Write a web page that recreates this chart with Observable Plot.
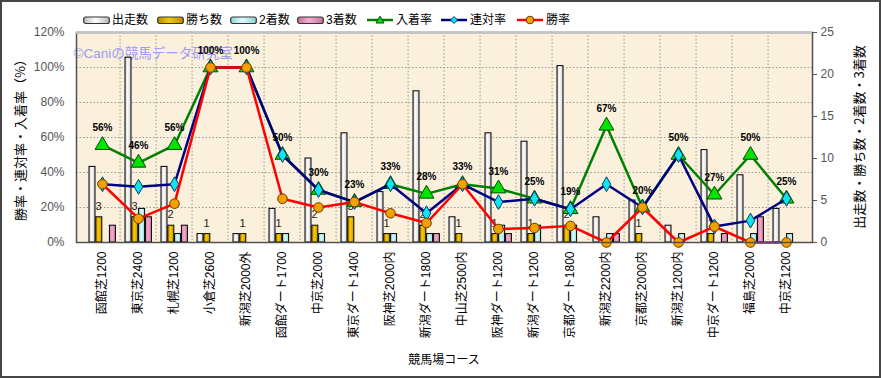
<!DOCTYPE html>
<html><head><meta charset="utf-8">
<script src="https://cdn.jsdelivr.net/npm/d3@7"></script>
<script src="https://cdn.jsdelivr.net/npm/@observablehq/plot@0.6"></script>
<style>
body{margin:0;background:#fff;}
#wrap{position:relative;width:881px;height:378px;overflow:hidden;font-family:"Liberation Sans","Noto Sans CJK JP",sans-serif;}
#wrap svg.plot{position:absolute;left:0;top:0;}
.border{position:absolute;left:0;top:0;width:881px;height:378px;box-sizing:border-box;border:2px solid #454545;pointer-events:none;}
.lg{position:absolute;top:13px;font-size:12px;color:#000;line-height:14px;white-space:nowrap;}
.lg svg{vertical-align:top;}
.ttl{position:absolute;font-size:13px;color:#000;white-space:nowrap;transform:translate(-50%,-50%) rotate(-90deg);font-family:"Noto Sans CJK JP",sans-serif;}
.xt{position:absolute;font-size:12px;color:#000;white-space:nowrap;transform:translate(-50%,-50%);font-family:"Noto Sans CJK JP",sans-serif;}
</style></head>
<body>
<div id="wrap"></div>
<script>
const courses = ["函館芝1200","東京芝2400","札幌芝1200","小倉芝2600","新潟芝2000外","函館ダート1700","中京芝2000","東京ダート1400","阪神芝2000内","新潟ダート1800","中山芝2500内","阪神ダート1200","新潟ダート1200","京都ダート1800","新潟芝2200内","京都芝2000内","新潟芝1200内","中京ダート1200","福島芝2000","中京芝1200"];
const starts  = [9,22,9,1,1,4,10,13,6,18,3,13,12,21,3,5,2,11,8,4];
const wins    = [3,3,2,1,1,1,2,3,1,2,1,1,1,2,0,1,0,1,0,0];
const seconds = [0,4,1,0,0,1,1,0,1,1,0,2,2,2,1,0,1,0,1,1];
const thirds  = [2,3,2,0,0,0,0,0,0,1,0,1,0,0,1,0,0,1,3,0];
const winRate    = [33.3,13.6,22.2,100,100,25,20,23.1,16.7,11.1,33.3,7.7,8.3,9.5,0,20,0,9.1,0,0];
const rentaiRate = [33.3,31.8,33.3,100,100,50,30,23.1,33.3,16.7,33.3,23.1,25,19.0,33.3,20,50,9.1,12.5,25];
const placeRate  = [55.6,45.5,55.6,100,100,50,30,23.1,33.3,27.8,33.3,30.8,25,19.0,66.7,20,50,27.3,50,25];
const leftTicks  = [0,20,40,60,80,100,120];
const rightTicks = [0,5,10,15,20,25];
const seriesNames = ["出走数","勝ち数","2着数","3着数","入着率","連対率","勝率"];
const watermark = ["©Caniの競馬データ研究室"];

const K = 120/25;
const rows = courses.map((c,i)=>({c, s:starts[i], w:wins[i], s2:seconds[i], s3:thirds[i], wr:winRate[i], rr:rentaiRate[i], pr:placeRate[i]}));
const BW = 736/courses.length;

const barOpts = (fill, l, r) => ({x:"c", fill, stroke:"#000", strokeWidth:1, insetLeft:l, insetRight:r});

const chart = Plot.plot({
  width:881, height:378, marginLeft:76, marginRight:69, marginTop:32, marginBottom:136,
  x:{type:"band", domain:courses, padding:0},
  y:{domain:[0,120]},
  style:{fontFamily:'"Liberation Sans","Noto Sans CJK JP",sans-serif', fontSize:"12px", background:"transparent", overflow:"visible"},
  marks:[
    Plot.frame({fill:"#faf0dc"}),
    Plot.gridY({ticks:leftTicks.slice(1,-1), stroke:"#9a9a9a", strokeOpacity:1, strokeDasharray:"1.5,2"}),
    Plot.ruleX(courses.slice(1), {dx:-BW/2, stroke:"#9a9a9a", strokeDasharray:"1.5,2"}),
    Plot.text(watermark, {frameAnchor:"top-left", text:d=>d, dx:-3, dy:16, textAnchor:"start", fontSize:13.5, fill:"#9c9cf0", fontFamily:'"Liberation Sans","Noto Sans CJK JP",sans-serif'}),
    Plot.barY(rows.filter(d=>d.s>0), {...barOpts("url(#gW)",5,25), y:d=>d.s*K}),
    Plot.barY(rows.filter(d=>d.w>0), {...barOpts("url(#gG)",11.8,18.2), y:d=>d.w*K}),
    Plot.barY(rows.filter(d=>d.s2>0), {...barOpts("url(#gC)",18.6,11.4), y:d=>d.s2*K}),
    Plot.barY(rows.filter(d=>d.s3>0), {...barOpts("url(#gP)",25.4,4.6), y:d=>d.s3*K}),
    Plot.text(rows.filter(d=>d.w>0), {x:"c", y:d=>d.w*K, text:d=>String(d.w), dy:-11, dx:-4, fontSize:11, fill:"#222"}),
    Plot.line(rows, {x:"c", y:"pr", stroke:"#008000", strokeWidth:2.5}),
    Plot.dot(rows, {x:"c", y:"pr", symbol:"triangle", r:5.5, fill:"#00e400", stroke:"#004800", strokeWidth:1}),
    Plot.line(rows, {x:"c", y:"rr", stroke:"#000080", strokeWidth:2.5}),
    Plot.dot(rows, {x:"c", y:"rr", symbol:"diamond", r:4.5, fill:"#10e4f4", stroke:"#004060", strokeWidth:1}),
    Plot.line(rows, {x:"c", y:"wr", stroke:"#ff0000", strokeWidth:2.5}),
    Plot.dot(rows, {x:"c", y:"wr", symbol:"circle", r:4.8, fill:"#f5a000", stroke:"#6a3a00", strokeWidth:1}),
    Plot.text(rows, {x:"c", y:"pr", text:d=>Math.round(d.pr)+"%", dy:-17, fontSize:10, fontWeight:"bold", fill:"#000"}),
    Plot.frame({stroke:"#505050", strokeWidth:1.5}),
    Plot.ruleY([120], {stroke:"#c4c4c4", strokeWidth:2.5}),
    Plot.axisY({anchor:"left", ticks:leftTicks, tickFormat:d=>d+"%", tickSize:0, tickPadding:12, label:null, color:"#555"}),
    Plot.axisY({anchor:"right", ticks:rightTicks.map(v=>v*K), tickFormat:v=>String(Math.round(v/K)), tickSize:4, tickPadding:4, label:null, color:"#555"}),
    Plot.axisX({tickRotate:-90, tickSize:0, tickPadding:9, label:null, color:"#000"})
  ]
});
chart.classList.add("plot");
const defs = document.createElementNS("http://www.w3.org/2000/svg","defs");
const grad = (id, a, b) => `<linearGradient id="${id}" x1="0" x2="1" y1="0" y2="0"><stop offset="0" stop-color="${a}"/><stop offset="0.45" stop-color="${b}"/><stop offset="1" stop-color="${a}"/></linearGradient>`;
defs.innerHTML = grad("gW","#c8c8c8","#ffffff")+grad("gG","#c89400","#f8c800")+grad("gC","#9cdcdc","#d8fafa")+grad("gP","#d080a8","#f4a8cc");
chart.insertBefore(defs, chart.firstChild);

const wrap = document.getElementById("wrap");
wrap.appendChild(chart);

// legend
const swatchFills = ["url(#lW)","url(#lG)","url(#lC)","url(#lP)"];
const legendX = [83,157,230,297,367,441,517];
let lgHTML = "";
const ldefs = `<defs>${grad("lW","#b8b8b8","#ffffff")}${grad("lG","#b88800","#f8c800")}${grad("lC","#90d0d0","#e0ffff")}${grad("lP","#c87098","#f4b0d0")}</defs>`;
seriesNames.forEach((name,i)=>{
  let sw;
  if (i<4) {
    sw = `<svg width="27" height="14"><rect x="0.7" y="4" width="25.6" height="6.5" rx="2" fill="${swatchFills[i]}" stroke="#333" stroke-width="1.2"/></svg>`;
  } else {
    const col = ["#008000","#000080","#ff0000"][i-4];
    let mk;
    if (i===4) mk = `<path d="M13,3.2 L17,10 L9,10 Z" fill="#00e400" stroke="#004800" stroke-width="1"/>`;
    else if (i===5) mk = `<path d="M13,3.5 L16.5,7 L13,10.5 L9.5,7 Z" fill="#10e4f4" stroke="#004060" stroke-width="1"/>`;
    else mk = `<circle cx="13" cy="7" r="3.8" fill="#f5a000" stroke="#6a3a00" stroke-width="1"/>`;
    sw = `<svg width="27" height="14"><line x1="0" x2="26" y1="7" y2="7" stroke="${col}" stroke-width="2.5"/>${mk}</svg>`;
  }
  lgHTML += `<div class="lg" style="left:${legendX[i]}px">${sw}<span style="margin-left:2px">${name}</span></div>`;
});
const lgDefs = `<svg width="0" height="0" style="position:absolute">${ldefs}</svg>`;
wrap.insertAdjacentHTML("beforeend", lgDefs + lgHTML);
wrap.insertAdjacentHTML("beforeend", `<div class="ttl" style="left:19px;top:137px">勝率・連対率・入着率（%）</div>`);
wrap.insertAdjacentHTML("beforeend", `<div class="ttl" style="left:858px;top:137px">出走数・勝ち数・2着数・3着数</div>`);
wrap.insertAdjacentHTML("beforeend", `<div class="xt" style="left:444px;top:358px">競馬場コース</div>`);
wrap.insertAdjacentHTML("beforeend", `<div class="border"></div>`);
</script>
</body></html>
